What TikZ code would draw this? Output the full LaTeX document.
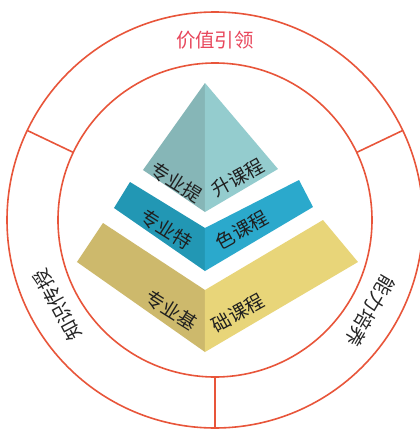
\documentclass[tikz,border=0pt]{standalone}
\usepackage{fontspec}
\newfontfamily\cjk{Noto Sans CJK SC}
\definecolor{ringred}{HTML}{E8553A}
\definecolor{toptxt}{HTML}{E8475C}
\definecolor{tealL}{HTML}{86B6B7}
\definecolor{tealR}{HTML}{94CCCE}
\definecolor{blueL}{HTML}{2297B4}
\definecolor{blueR}{HTML}{2BA9CC}
\definecolor{yelL}{HTML}{CDB96C}
\definecolor{yelR}{HTML}{E8D579}
\tikzset{
  ring/.style={draw=ringred, line width=1.6bp},
  ringlabel/.style={font=\cjk\fontsize{19.5}{20}\selectfont, text=black!85, inner sep=0pt},
  pyrtext/.style={font=\cjk\fontsize{19}{20}\selectfont, text=black!88, inner sep=0pt},
}
\begin{document}
\begin{tikzpicture}[x=1bp,y=1bp]
\useasboundingbox (-215,-210) rectangle (205,220);
\fill[white] (-215,-210) rectangle (205,220);
\clip (-215,-210) rectangle (205,220);
\coordinate (c) at (0,0);
% rings
\draw[ring] (c) circle[radius=208];
\draw[ring] (c) circle[radius=157];
\coordinate (dLi) at (154.5:157); \coordinate (dLo) at (154.5:208);
\coordinate (dRi) at (25.5:157);  \coordinate (dRo) at (25.5:208);
\coordinate (dBi) at (270:157);   \coordinate (dBo) at (270:208);
\draw[ring] (dLi) -- (dLo);
\draw[ring] (dRi) -- (dRo);
\draw[ring] (dBi) -- (dBo);
% ring labels
\node[ringlabel, text=toptxt] (lTop) at (90:180) {价值引领};
\node[ringlabel, rotate=118.4] (lLeft) at (208.4:179) {知识传授};
\node[ringlabel, rotate=239.6] (lRight) at (329.6:180) {能力培养};
% top piece
\fill[tealL] (-10,137) -- (-72,50) -- (-10,8) -- cycle;
\fill[tealR] (-10,137) -- (63,51) -- (-10,8) -- cycle;
% blue band
\fill[blueL] (-85,38) -- (-10,-8) -- (-10,-51) -- (-101,12) -- cycle;
\fill[blueR] (-10,-8) -- (84,40) -- (98,13) -- (-10,-51) -- cycle;
% yellow band
\fill[yelL] (-112,-3) -- (-10,-70) -- (-10,-132) -- (-138,-42) -- cycle;
\fill[yelR] (-10,-70) -- (108,0) -- (143,-42) -- (-10,-132) -- cycle;
% pyramid texts
\node[pyrtext, rotate=-32] (t1l) at (-39,38) {专业提};
\node[pyrtext, rotate=29] (t1r) at (23,42) {升课程};
\node[pyrtext, rotate=-32] (t2l) at (-49,-9) {专业特};
\node[pyrtext, rotate=29] (t2r) at (27,-10) {色课程};
\node[pyrtext, rotate=-32] (t3l) at (-44,-90) {专业基};
\node[pyrtext, rotate=29] (t3r) at (23,-93) {础课程};
\end{tikzpicture}
\end{document}
